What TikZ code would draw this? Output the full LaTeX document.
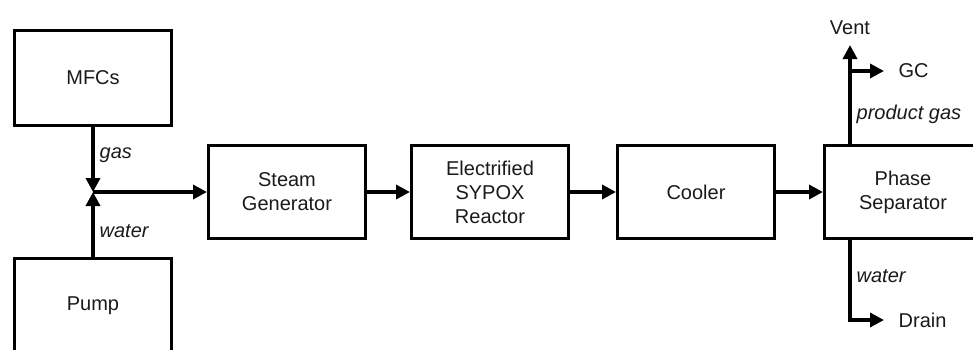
\documentclass[tikz,border=0pt]{standalone}
\usepackage{fontspec}
\setmainfont{Liberation Sans}
\usepackage{xcolor}
\usepackage{tikz}
\usetikzlibrary{arrows.meta, positioning, calc}
\definecolor{ink}{HTML}{000000}
\definecolor{inksoft}{HTML}{1A1A1A}
\tikzset{
  box/.style      = {draw=ink, line width=1.7pt, rectangle, align=center, text=inksoft,
                     minimum width=78.3pt, minimum height=46.3pt, font=\fontsize{10}{12}\selectfont},
  flow/.style     = {-{Triangle[length=7pt, width=7pt]}, draw=ink, line width=1.7pt},
  tail/.style     = {flow, shorten >=4pt},
  tag/.style      = {font=\fontsize{10}{12}\selectfont, text=inksoft, outer sep=0pt},
  note/.style     = {tag, font=\fontsize{10}{12}\selectfont\itshape},
}
\begin{document}
\begin{tikzpicture}[x=0.5pt, y=-0.5pt]
  \clip (0,0) rectangle (973,349);

  \node[box, minimum height=47.3pt] (mfc) at (93,78) {MFCs};
  \node[box, minimum height=47.3pt] (pump) at (93,306) {Pump};
  \coordinate (junc) at (93,192);

  \node[box, right=57pt of junc] (steam) {Steam\\Generator};
  \node[box, right=21.5pt of steam] (reactor) {Electrified\\SYPOX\\Reactor};
  \node[box, right=23pt of reactor] (cooler) {Cooler};
  \node[box, right=23.5pt of cooler] (sep) {Phase\\Separator};

  \draw[flow] (mfc) -- node[note, pos=0.43, right] {gas} (junc);
  \draw[flow] (pump) -- node[note, pos=0.4, right] {water} (junc);
  \draw[flow] (junc) -- (steam);
  \draw[flow] (steam) -- (reactor);
  \draw[flow] (reactor) -- (cooler);
  \draw[flow] (cooler) -- (sep);

  \coordinate (stem) at ([xshift=13.5pt]sep.north west);
  \node[tag, above=51.5pt of stem] (vent) {Vent};
  \coordinate[above=36.5pt of stem] (fork);
  \node[tag, right=21pt of fork] (gc) {GC};
  \draw[flow, shorten >=2pt] (stem) -- node[note, pos=0.29, right] {product gas} (vent);
  \draw[tail] (fork) -- (gc);

  \coordinate (dstem) at ([xshift=13.5pt]sep.south west);
  \coordinate[below=40pt of dstem] (bend);
  \node[tag, right=21pt of bend] (drain) {Drain};
  \draw[tail] (dstem) -- node[note, pos=0.45, right] {water} (bend) -- (drain);
\end{tikzpicture}
\end{document}
